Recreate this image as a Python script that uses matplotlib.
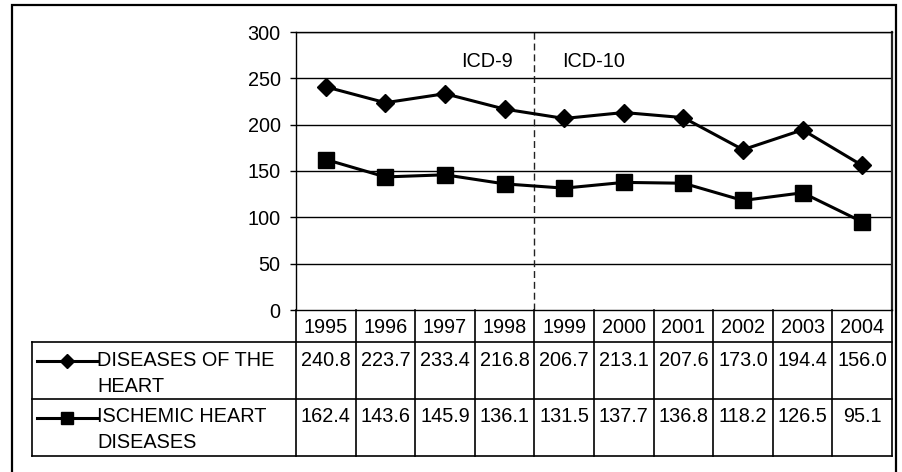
import matplotlib
matplotlib.use("Agg")
import matplotlib.pyplot as plt
import matplotlib.transforms as mtransforms
from matplotlib.lines import Line2D
from matplotlib.patches import Rectangle

plt.rcParams['font.family'] = ['Liberation Sans', 'DejaVu Sans']

years = ["1995", "1996", "1997", "1998", "1999", "2000", "2001", "2002", "2003", "2004"]
heart = [240.8, 223.7, 233.4, 216.8, 206.7, 213.1, 207.6, 173.0, 194.4, 156.0]
ischemic = [162.4, 143.6, 145.9, 136.1, 131.5, 137.7, 136.8, 118.2, 126.5, 95.1]
heart_label = ["DISEASES OF THE", "HEART"]
ischemic_label = ["ISCHEMIC HEART", "DISEASES"]
yticks = [0, 50, 100, 150, 200, 250, 300]

W, H = 903, 472
FS = 14.3
fig = plt.figure(figsize=(W / 100, H / 100), dpi=100)
fig.patch.set_facecolor('white')

def fx(px):
    return px / W

def fy(py):
    return 1 - py / H

ax_l, ax_r, ax_t, ax_b = 296, 892, 32, 310
ax = fig.add_axes([fx(ax_l), fy(ax_b), fx(ax_r - ax_l), (ax_b - ax_t) / H])
x = list(range(len(years)))
ax.set_xlim(-0.5, len(years) - 0.5)
ax.set_ylim(0, 300)
ax.set_yticks(yticks)
ax.set_xticks([])
ax.tick_params(axis='y', length=4.5, width=1, pad=6.5, labelsize=FS, colors='black')
for y in yticks[1:]:
    ax.axhline(y, color='black', lw=1, zorder=1)
for s in ['left', 'bottom', 'top']:
    ax.spines[s].set_linewidth(1)
    ax.spines[s].set_color('black')
ax.spines['right'].set_linewidth(1.6)
ax.spines['right'].set_color('#222222')

ax.plot(x, heart, color='black', lw=2.2, marker='D', ms=9.5, zorder=3)
ax.plot(x, ischemic, color='black', lw=2.2, marker='s', ms=11.5, zorder=3)

ax.plot([3.5, 3.5], [0, 300], color='#222222', lw=1, dashes=(5, 2.8), zorder=2)
ax.text(2.7, 268, "ICD-9", ha='center', va='center', fontsize=FS)
ax.text(4.5, 268, "ICD-10", ha='center', va='center', fontsize=FS)

# data table below the axis
bt = mtransforms.blended_transform_factory(ax.transData, fig.transFigure)
row_tops = [342, 399]
tbl_bottom = 456
leg_left = 32
for i in range(len(years) + 1):
    fig.add_artist(Line2D([i - 0.5, i - 0.5], [fy(ax_b), fy(tbl_bottom)], transform=bt,
                          color='black', lw=1.2))
for py in row_tops + [tbl_bottom]:
    fig.add_artist(Line2D([fx(leg_left), fx(ax_r)], [fy(py), fy(py)],
                          transform=fig.transFigure, color='black', lw=1.2))
fig.add_artist(Line2D([fx(leg_left), fx(leg_left)], [fy(row_tops[0]), fy(tbl_bottom)],
                      transform=fig.transFigure, color='black', lw=1.2))

cap = 7.0
for i, yr in enumerate(years):
    fig.text(i, fy(326 + cap), yr, transform=bt, ha='center', va='baseline', fontsize=FS)
    fig.text(i, fy(358.5 + cap), f"{heart[i]:.1f}", transform=bt, ha='center', va='baseline', fontsize=FS)
    fig.text(i, fy(415 + cap), f"{ischemic[i]:.1f}", transform=bt, ha='center', va='baseline', fontsize=FS)

lab_x = 97
for j, line in enumerate(heart_label):
    fig.text(fx(lab_x), fy(358.5 + cap + 26 * j), line, ha='left', va='baseline', fontsize=FS)
for j, line in enumerate(ischemic_label):
    fig.text(fx(lab_x), fy(415 + cap + 26 * j), line, ha='left', va='baseline', fontsize=FS)

for py, mk, ms in [(360.5, 'D', 7), (417.5, 's', 9)]:
    fig.add_artist(Line2D([fx(36.7), fx(96.7)], [fy(py), fy(py)], transform=fig.transFigure,
                          color='black', lw=2.2))
    fig.add_artist(Line2D([fx(66.7)], [fy(py)], transform=fig.transFigure, color='black',
                          marker=mk, ms=ms, lw=0))

# outer frame
fig.add_artist(Rectangle((fx(12), -0.1), fx(896 - 12), fy(5) + 0.1, transform=fig.transFigure,
                         fill=False, edgecolor='black', lw=1.6, clip_on=False))

fig.savefig("out.png", dpi=100)
